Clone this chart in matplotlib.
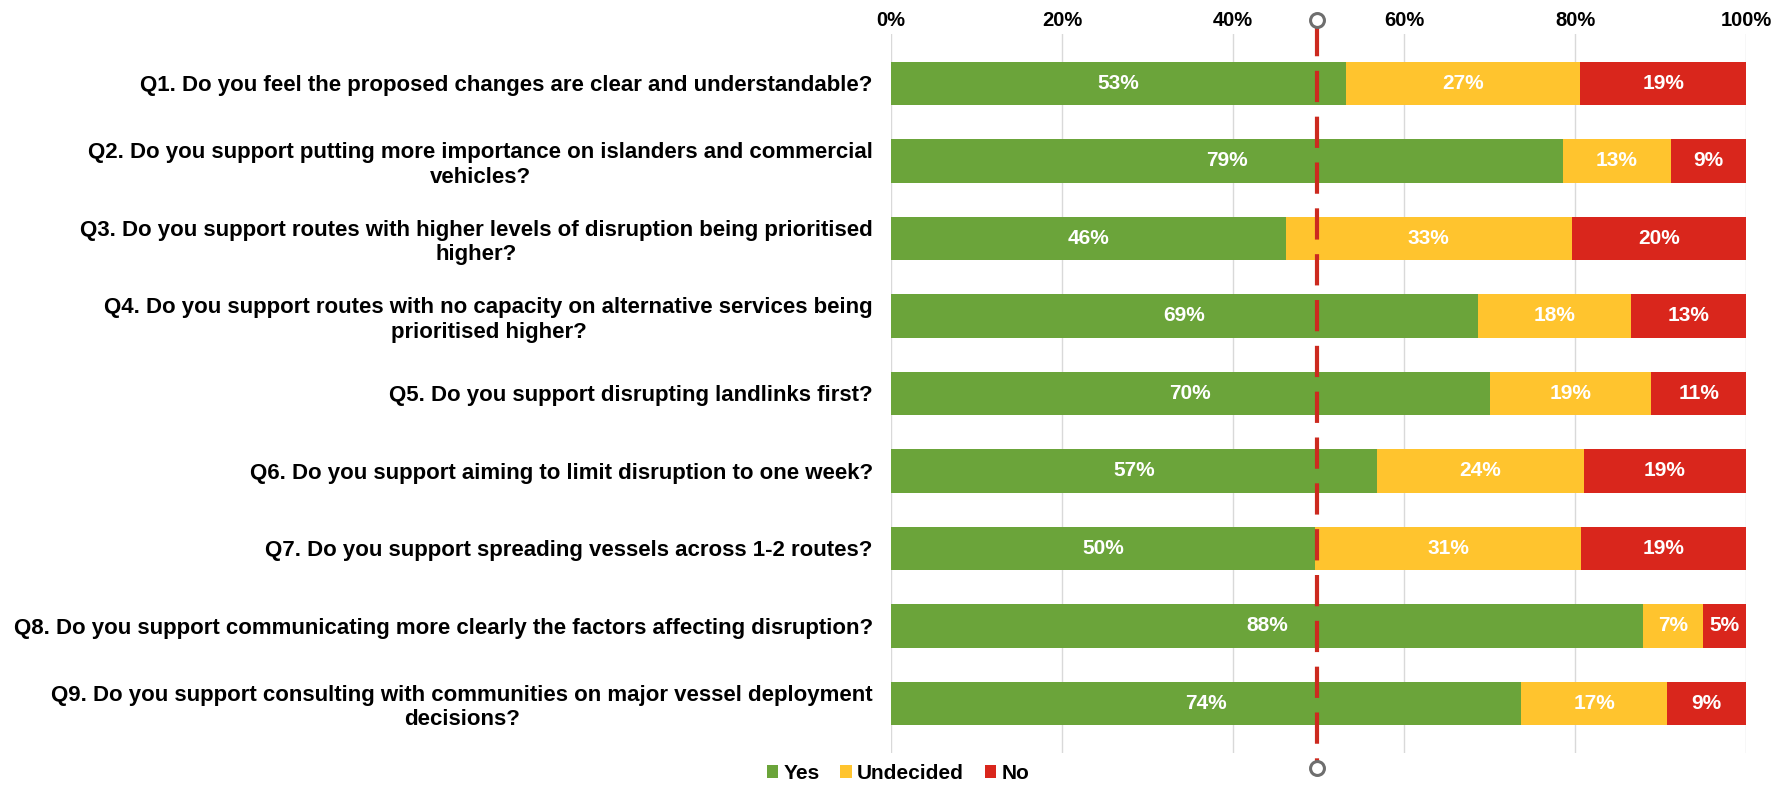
import numpy as np
import matplotlib.pyplot as plt
from matplotlib.transforms import blended_transform_factory

"""
    Survey responses - disruption prioritisation questions
"""

questions = [
    'Q1. Do you feel the proposed changes are clear and understandable?',
    'Q2. Do you support putting more importance on islanders and commercial\nvehicles?',
    'Q3. Do you support routes with higher levels of disruption being prioritised\nhigher?',
    'Q4. Do you support routes with no capacity on alternative services being\nprioritised higher?',
    'Q5. Do you support disrupting landlinks first?',
    'Q6. Do you support aiming to limit disruption to one week?',
    'Q7. Do you support spreading vessels across 1-2 routes?',
    'Q8. Do you support communicating more clearly the factors affecting disruption?',
    'Q9. Do you support consulting with communities on major vessel deployment\ndecisions?',
]

yes = [53.2, 78.6, 46.2, 68.6, 70.0, 56.9, 49.6, 88.0, 73.7]
undecided = [27.4, 12.6, 33.4, 18.0, 18.9, 24.1, 31.1, 7.0, 17.1]
no = [19.4, 8.8, 20.4, 13.4, 11.1, 19.0, 19.3, 5.0, 9.2]

series_names = ['Yes', 'Undecided', 'No']
colors = ['#6BA43A', '#FFC42E', '#D9261C']
midline = 49.8

plt.rcParams['font.family'] = ['Liberation Sans', 'DejaVu Sans']

fig = plt.figure(figsize=(17.89, 7.86), dpi=100)
ax = fig.add_axes([0.498, 0.042, 0.478, 0.915])

y = np.arange(len(questions))
left = np.zeros(len(questions))
for vals, name, col in zip([yes, undecided, no], series_names, colors):
    vals = np.array(vals)
    ax.barh(y, vals, left=left, height=0.56, color=col, label=name, zorder=2)
    for yi, l, v in zip(y, left, vals):
        ax.text(l + v / 2, yi, f'{round(v)}%', ha='center', va='center',
                color='white', fontsize=15, fontweight='bold', zorder=3)
    left += vals

ax.set_xlim(0, 100)
ax.set_ylim(len(questions) - 0.36, -0.64)
ax.set_xticks(np.arange(0, 101, 20))
ax.set_xticklabels([f'{t}%' for t in range(0, 101, 20)], fontsize=14.5, fontweight='bold')
# last label sits inside the plot edge
ax.get_xticklabels()[-1].set_horizontalalignment('right')
ax.xaxis.tick_top()
ax.tick_params(axis='x', length=0, pad=3)
ax.set_yticks(y)
ax.set_yticklabels(questions, fontsize=16, fontweight='bold')
for lab in ax.get_yticklabels():
    lab.set_multialignment('center')
ax.tick_params(axis='y', length=0, pad=13)
ax.grid(axis='x', color='#D9D9D9', linewidth=1, zorder=0)
for s in ax.spines.values():
    s.set_visible(False)

# dashed halfway marker with round ends above and below the plot
trans = blended_transform_factory(ax.transData, ax.transAxes)
ax.plot([midline, midline], [1.012, -0.012], transform=trans, color='#CC2A1F',
        linewidth=3, dashes=(7.5, 3.5), clip_on=False, zorder=4)
ax.plot([midline, midline], [1.019, -0.021], transform=trans, linestyle='none',
        marker='o', markersize=10, markerfacecolor='white', markeredgecolor='#6E6E6E',
        markeredgewidth=2.2, clip_on=False, zorder=5)

fig.legend(loc='center', bbox_to_anchor=(0.502, 0.016), ncol=3, frameon=False,
           handlelength=0.55, handleheight=0.55, handletextpad=0.25, columnspacing=1.0,
           prop={'size': 15, 'weight': 'bold'})

fig.savefig('out.png', dpi=100)
